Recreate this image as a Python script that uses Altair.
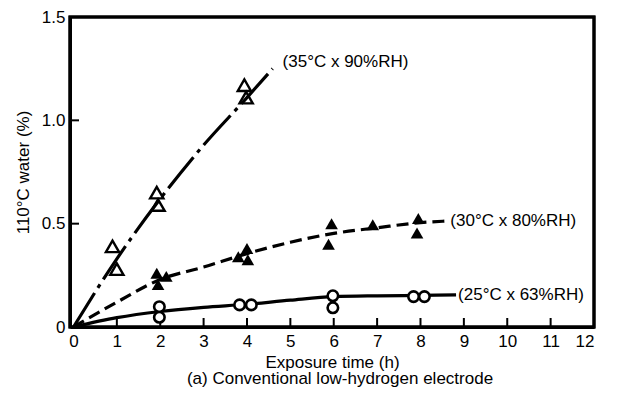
import altair as alt
import pandas as pd

# ---- data ----
c35_x = [0, 1, 2, 3, 4, 4.59]
c35_y = [0, 0.33, 0.62, 0.88, 1.11, 1.25]
c30_x = [0, 1, 2, 3, 4, 5, 6, 7, 8, 8.55]
c30_y = [0, 0.12, 0.23, 0.29, 0.355, 0.41, 0.453, 0.48, 0.505, 0.512]
c25_x = [0, 1, 2, 3, 4, 5, 6, 7, 8, 8.82]
c25_y = [0, 0.045, 0.075, 0.095, 0.11, 0.13, 0.147, 0.151, 0.153, 0.155]

open_tri_x = [0.9, 1.0, 1.92, 1.95, 3.94, 3.98]
open_tri_y = [0.39, 0.28, 0.65, 0.59, 1.17, 1.11]
fill_tri_x = [1.92, 2.14, 1.95, 3.8, 4.0, 4.02, 5.95, 5.88, 6.9, 7.95, 7.92]
fill_tri_y = [0.26, 0.245, 0.205, 0.34, 0.38, 0.325, 0.5, 0.40, 0.495, 0.525, 0.455]
circle_x = [1.98, 1.98, 3.83, 4.1, 5.98, 5.98, 7.84, 8.09]
circle_y = [0.098, 0.047, 0.107, 0.107, 0.151, 0.093, 0.147, 0.147]

series_labels = ["(35°C x 90%RH)", "(30°C x 80%RH)", "(25°C x 63%RH)"]

x_tick_labels = list(range(0, 13))
x_inner_ticks = list(range(1, 12))
y_tick_labels = [0, 0.5, 1.0, 1.5]
y_inner_ticks = [0.5, 1.0]

x_title = "Exposure time (h)"
y_title = "110°C water (%)"
caption = "(a) Conventional low-hydrogen electrode"

# ---- chart ----
INK = "black"
FONT = "Liberation Sans"
W, H = 524, 310

xs = alt.Scale(domain=[-0.08, 12], nice=False, zero=False)
ys = alt.Scale(domain=[0, 1.5], nice=False)

def curve_df(xv, yv):
    return pd.DataFrame({"x": xv, "y": yv})

x_axis = alt.Axis(values=x_tick_labels, ticks=False, labelPadding=6, labelFontSize=17,
                  labelFont=FONT, labelColor=INK, grid=False,
                  domain=True, domainColor=INK, domainWidth=3,
                  title=x_title, titleFontSize=17, titleFont=FONT, titleFontWeight="normal",
                  titleColor=INK, titlePadding=5)
y_axis = alt.Axis(values=y_tick_labels, ticks=False, labelPadding=5, labelFontSize=17,
                  labelFont=FONT, labelColor=INK, grid=False,
                  domain=True, domainColor=INK, domainWidth=3,
                  labelExpr="datum.value == 0 ? '0' : format(datum.value, '.1f')",
                  title=y_title, titleFontSize=17, titleFont=FONT, titleFontWeight="normal",
                  titleColor=INK, titlePadding=9)

line25 = alt.Chart(curve_df(c25_x, c25_y)).mark_line(
    color=INK, strokeWidth=3.2, interpolate="monotone"
).encode(x=alt.X("x:Q", scale=xs, axis=x_axis), y=alt.Y("y:Q", scale=ys, axis=y_axis))

rule_x = alt.Chart(pd.DataFrame({"x": x_inner_ticks})).mark_rule(color=INK, strokeWidth=2).encode(
    x=alt.X("x:Q", scale=xs), y=alt.value(H), y2=alt.value(H - 9))
rule_y = alt.Chart(pd.DataFrame({"y": y_inner_ticks})).mark_rule(color=INK, strokeWidth=2).encode(
    y=alt.Y("y:Q", scale=ys), x=alt.value(0), x2=alt.value(9))
frame = alt.Chart(pd.DataFrame({"k": [0]})).mark_rect(
    fillOpacity=0, stroke=INK, strokeWidth=3
).encode(x=alt.value(0), x2=alt.value(W), y=alt.value(0), y2=alt.value(H))

line30 = alt.Chart(curve_df(c30_x, c30_y)).mark_line(
    color=INK, strokeWidth=3.2, strokeDash=[12, 6], interpolate="monotone"
).encode(x=alt.X("x:Q", scale=xs), y=alt.Y("y:Q", scale=ys))

line35 = alt.Chart(curve_df(c35_x, c35_y)).mark_line(
    color=INK, strokeWidth=3.2, strokeDash=[40, 6, 4, 6], interpolate="monotone"
).encode(x=alt.X("x:Q", scale=xs), y=alt.Y("y:Q", scale=ys))

open_tri = alt.Chart(curve_df(open_tri_x, open_tri_y)).mark_point(
    shape="triangle-up", filled=False, color=INK, strokeWidth=2.4, size=175, opacity=1
).encode(x=alt.X("x:Q", scale=xs), y=alt.Y("y:Q", scale=ys))
fill_tri = alt.Chart(curve_df(fill_tri_x, fill_tri_y)).mark_point(
    shape="triangle-up", filled=True, color=INK, size=160, opacity=1
).encode(x=alt.X("x:Q", scale=xs), y=alt.Y("y:Q", scale=ys))
circles = alt.Chart(curve_df(circle_x, circle_y)).mark_point(
    shape="circle", filled=True, fill="white", fillOpacity=1, stroke=INK,
    strokeWidth=2.6, size=110, opacity=1
).encode(x=alt.X("x:Q", scale=xs), y=alt.Y("y:Q", scale=ys))

def end_label(xv, yv, text, dx, dy):
    df = pd.DataFrame({"x": [xv[-1]], "y": [yv[-1]], "t": [text]})
    return alt.Chart(df).mark_text(
        align="left", baseline="middle", dx=dx, dy=dy, fontSize=17, font=FONT, color=INK
    ).encode(x=alt.X("x:Q", scale=xs), y=alt.Y("y:Q", scale=ys), text="t:N")

lab35 = end_label(c35_x, c35_y, series_labels[0], 10, -7)
lab30 = end_label(c30_x, c30_y, series_labels[1], 6, 0)
lab25 = end_label(c25_x, c25_y, series_labels[2], 2, 0)

cap = alt.Chart(pd.DataFrame({"t": [caption]})).mark_text(
    align="center", baseline="alphabetic", fontSize=17, font=FONT, color=INK
).encode(x=alt.value(W / 2 + 8), y=alt.value(H + 57), text="t:N")

chart = alt.layer(
    line25, rule_x, rule_y, frame, line30, line35, open_tri, fill_tri, circles,
    lab35, lab30, lab25, cap
).properties(
    width=W, height=H,
    autosize=alt.AutoSizeParams(type="none"),
    padding={"left": 62, "top": 9, "right": 15, "bottom": 61},
).configure_view(
    stroke=INK, strokeWidth=3
)

chart.save("out.html", embed_options={"renderer": "svg", "actions": False})
